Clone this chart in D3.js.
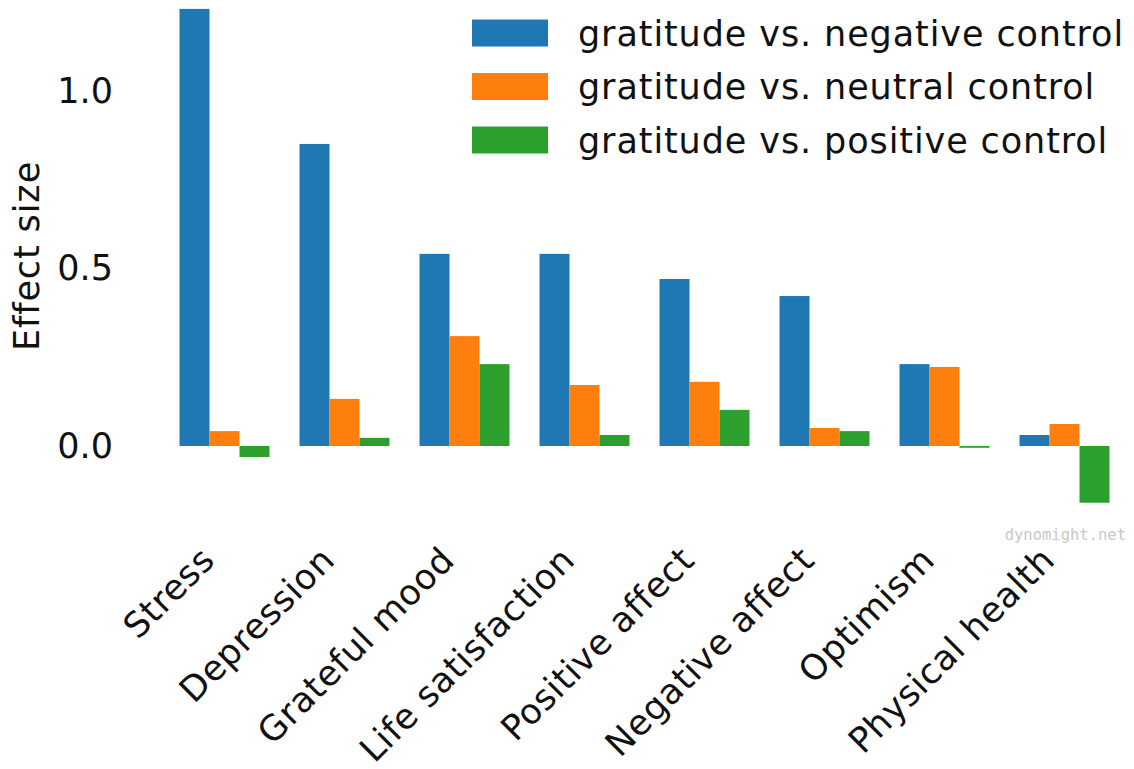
<!DOCTYPE html>
<html>
<head>
    <meta charset="utf-8">
    <title>Gratitude effect sizes</title>
    <style type="text/css">
        body { margin: 0; background: #fff; }
        svg text { font-family: "DejaVu Sans", sans-serif; fill: #111; }
    </style>
</head>
<body>
<div id="chart"></div>
<script src="https://cdn.jsdelivr.net/npm/d3@7"></script>
<script type="text/javascript">
    // categories on the x axis
    var categories = ["Stress", "Depression", "Grateful mood", "Life satisfaction",
        "Positive affect", "Negative affect", "Optimism", "Physical health"];

    // one series per control group
    var seriesNames = ["gratitude vs. negative control", "gratitude vs. neutral control",
        "gratitude vs. positive control"];
    var negativeControl = [1.233, 0.852, 0.542, 0.542, 0.471, 0.423, 0.231, 0.031];
    var neutralControl = [0.042, 0.133, 0.310, 0.172, 0.181, 0.051, 0.223, 0.062];
    var positiveControl = [-0.031, 0.023, 0.231, 0.031, 0.102, 0.042, -0.005, -0.160];
    var seriesValues = [negativeControl, neutralControl, positiveControl];

    var yTicks = [0.0, 0.5, 1.0];
    var colors = ["#1f77b4", "#ff7f0e", "#2ca02c"];

    var width = 1134, height = 769;
    var fontSize = 35;
    var spacing = 0.9;   // a bit wider, closer to the original geometric font

    var svg = d3.select("#chart")
        .append("svg")
        .attr("width", width)
        .attr("height", height);

    // scales
    var x0 = d3.scaleBand()
        .domain(categories)
        .range([164.5, 1124.5])
        .paddingInner(0.25)
        .paddingOuter(0.125);

    var x1 = d3.scaleBand()
        .domain(seriesNames)
        .range([0, x0.bandwidth()]);

    var y = d3.scaleLinear()
        .domain([0, 1])
        .range([446, 91.5]);

    // bars
    var groups = svg.append("g")
        .selectAll("g")
        .data(seriesNames)
        .enter()
        .append("g")
        .attr("fill", function (d, i) { return colors[i]; });

    groups.selectAll("rect")
        .data(function (d, i) {
            return categories.map(function (c, j) {
                return { cat: c, series: d, value: seriesValues[i][j] };
            });
        })
        .enter()
        .append("rect")
        .attr("x", function (d) { return x0(d.cat) + x1(d.series); })
        .attr("width", x1.bandwidth())
        .attr("y", function (d) { return Math.min(y(d.value), y(0)); })
        .attr("height", function (d) { return Math.abs(y(d.value) - y(0)); });

    // y axis: labels only, no spine or ticks
    var yAxis = svg.append("g")
        .attr("transform", "translate(113,0)")
        .call(d3.axisLeft(y).tickValues(yTicks).tickFormat(d3.format(".1f")).tickSize(0).tickPadding(0));
    yAxis.select(".domain").remove();
    yAxis.selectAll("text")
        .attr("font-size", fontSize)
        .attr("font-family", "DejaVu Sans, sans-serif")
        .attr("fill", "#111");

    // y axis title
    svg.append("text")
        .attr("transform", "translate(39,256) rotate(-90)")
        .attr("text-anchor", "middle")
        .attr("font-size", fontSize)
        .attr("letter-spacing", spacing)
        .text("Effect size");

    // x labels, rotated 45 degrees
    svg.append("g")
        .selectAll("text")
        .data(categories)
        .enter()
        .append("text")
        .attr("text-anchor", "end")
        .attr("font-size", fontSize)
        .attr("letter-spacing", 0.6)
        .attr("transform", function (d) {
            var cx = x0(d) + x0.bandwidth() / 2 - 8;
            return "translate(" + cx + ",562) rotate(-45)";
        })
        .text(function (d) { return d; });

    // legend
    var legend = svg.append("g")
        .selectAll("g")
        .data(seriesNames)
        .enter()
        .append("g")
        .attr("transform", function (d, i) { return "translate(472," + (33 + i * 53.5) + ")"; });

    legend.append("rect")
        .attr("x", 0)
        .attr("y", -13.5)
        .attr("width", 76)
        .attr("height", 27)
        .attr("fill", function (d, i) { return colors[i]; });

    legend.append("text")
        .attr("x", 106)
        .attr("dy", "0.36em")
        .attr("font-size", fontSize)
        .attr("letter-spacing", spacing)
        .text(function (d) { return d; });

    // watermark
    svg.append("text")
        .attr("x", 1126)
        .attr("y", 540)
        .attr("text-anchor", "end")
        .attr("font-size", 15.5)
        .style("font-family", "DejaVu Sans Mono, monospace")
        .style("fill", "#c8c8c8")
        .text("dynomight.net");
</script>
</body>
</html>
